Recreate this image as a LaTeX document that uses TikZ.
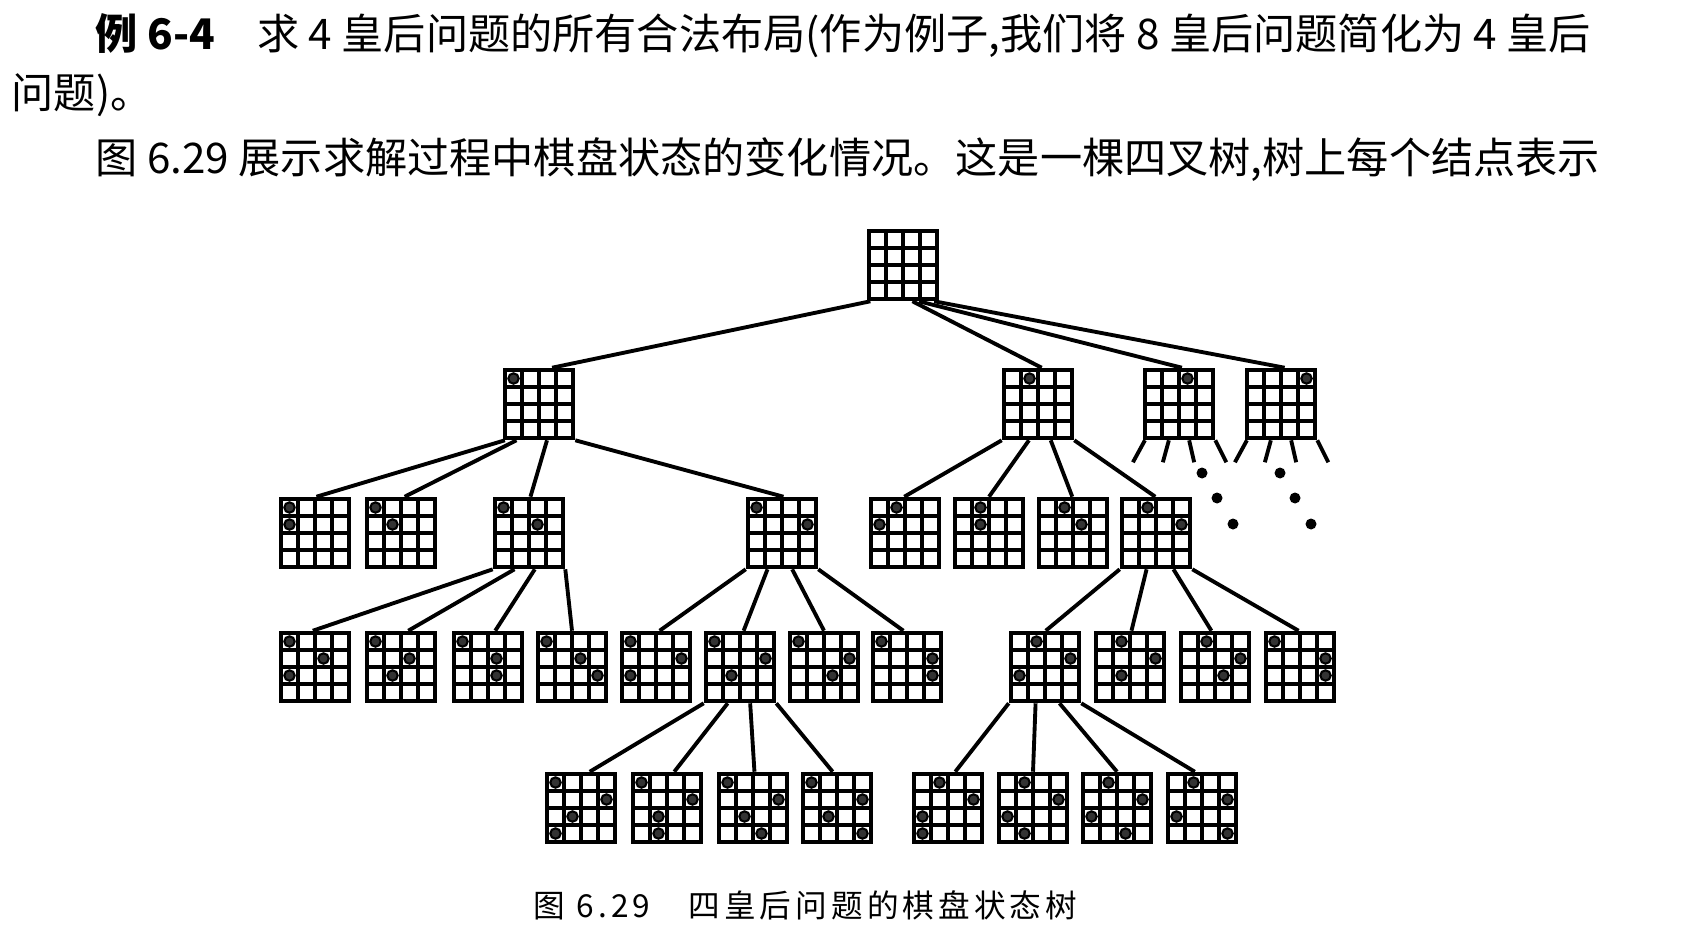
\documentclass[tikz,border=0pt]{standalone}
\usepackage{fontspec}
\setmainfont{Noto Sans CJK SC}
\newfontfamily\capfont{Noto Sans CJK SC}[LetterSpace=13]
\usetikzlibrary{calc}

\tikzset{
  boardbox/.style={draw, line width=1.3pt, minimum size=6.8mm, inner sep=0pt},
  gridline/.style={line width=1pt},
  queen/.style={draw, line width=0.6pt, fill=black!80},
  branch/.style={line width=1.1pt},
  textline/.style={inner sep=0pt, anchor=west, font=\fontsize{12}{14}\selectfont},
}

% board: name, x, y
\newcommand\qboard[3]{%
  \node[boardbox] (#1) at (#2,#3) {};
  \foreach \k in {-17,0,17} {
    \draw[gridline] ({#2+\k},{#3-34}) -- ({#2+\k},{#3+34});
    \draw[gridline] ({#2-34},{#3+\k}) -- ({#2+34},{#3+\k});
  }
}
% queens: board name, list row/col
\newcommand\queens[2]{%
  \foreach \qr/\qc in {#2} {
    \draw[queen] ($(#1.center)+({(\qc-2.5)*1.7mm},{-(\qr-2.5)*1.7mm})$) circle (0.52mm);
  }
}
% parent, fraction on bottom, child, fraction on top
\newcommand\qlink[4]{%
  \draw[branch] ($(#1.south west)!#2!(#1.south east)$) -- ($(#3.north west)!#4!(#3.north east)$);
}

\begin{document}
\begin{tikzpicture}[x=0.1mm, y=-0.1mm]
\useasboundingbox (0,0) rectangle (1688,943);

% text above
\node[textline] (line1) at (95,36) {{\bfseries 例 6-4}\quad 求 4 皇后问题的所有合法布局(作为例子,我们将 8 皇后问题简化为 4 皇后};
\node[textline] (line2) at (11,95) {问题)。};
\node[textline] (line3) at (95,160) {图 6.29 展示求解过程中棋盘状态的变化情况。这是一棵四叉树,树上每个结点表示};

% level 0 and 1
\qboard{root}{903}{265}
\qboard{a}{539}{404}  \queens{a}{1/1}
\qboard{b}{1038}{404} \queens{b}{1/2}
\qboard{c}{1179}{404} \queens{c}{1/3}
\qboard{d}{1281}{404} \queens{d}{1/4}
\qlink{root}{0.05}{a}{0.68}
\qlink{root}{0.63}{b}{0.55}
\qlink{root}{0.72}{c}{0.54}
\qlink{root}{0.93}{d}{0.55}

% c and d are not expanded
\foreach \p in {c,d} {
  \foreach \s/\dx in {0.03/-12, 0.36/-6, 0.64/5, 1/11}
    \draw[branch] ($(\p.south west)!\s!(\p.south east)$) -- ++(\dx,22);
}
\foreach \x in {1202,1280} {
  \fill (\x,473) circle (0.55mm);
  \fill (\x+15,498) circle (0.55mm);
  \fill (\x+31,524) circle (0.55mm);
}

% level 2
\foreach \c/\x/\s/\e in {1/315/0.03/0.52, 2/401/0.19/0.55, 3/529/0.61/0.52, 4/782/1/0.52} {
  \qboard{a\c}{\x}{533} \queens{a\c}{1/1,2/\c}
  \qlink{a}{\s}{a\c}{\e}
}
\foreach \c/\x/\s/\e in {1/905/0/0.49, 2/989/0.375/0.5, 3/1073/0.675/0.49, 4/1156/1/0.49} {
  \qboard{b\c}{\x}{533} \queens{b\c}{1/2,2/\c}
  \qlink{b}{\s}{b\c}{\e}
}

% level 3
\foreach \c/\x/\s/\e in {1/315/0/0.47, 2/401/0.3/0.6, 3/488/0.58/0.6, 4/572/1/0.5} {
  \qboard{a3\c}{\x}{667} \queens{a3\c}{1/1,2/3,3/\c}
  \qlink{a3}{\s}{a3\c}{\e}
}
\foreach \c/\x/\s/\e in {1/656/0/0.55, 2/740/0.3/0.55, 3/824/0.64/0.5, 4/907/1/0.45} {
  \qboard{a4\c}{\x}{667} \queens{a4\c}{1/1,2/4,3/\c}
  \qlink{a4}{\s}{a4\c}{\e}
}
\foreach \c/\x/\s/\e in {1/1045/0/0.51, 2/1130/0.37/0.52, 3/1215/0.74/0.45} {
  \qboard{b4\c}{\x}{667} \queens{b4\c}{1/2,2/4,3/\c}
  \qlink{b4}{\s}{b4\c}{\e}
}
\qboard{b44}{1300}{667} \queens{b44}{1/1,2/4,3/4}
\qlink{b4}{1}{b44}{0.48}

% level 4
\foreach \c/\x/\s/\e in {1/581/0/0.62, 2/667/0.33/0.6, 3/753/0.64/0.52, 4/837/1/0.44} {
  \qboard{a42\c}{\x}{808} \queens{a42\c}{1/1,2/4,3/2,4/\c}
  \qlink{a42}{\s}{a42\c}{\e}
}
\foreach \c/\x/\s/\e in {1/948/0/0.6, 2/1033/0.37/0.5, 3/1117/0.7/0.5, 4/1202/1/0.4} {
  \qboard{b41\c}{\x}{808} \queens{b41\c}{1/2,2/4,3/1,4/\c}
  \qlink{b41}{\s}{b41\c}{\e}
}

% caption
\node[inner sep=0pt, anchor=west, font=\capfont\fontsize{9}{11}\selectfont] (caption) at (533,905) {图 6.29\hspace{1.2em}四皇后问题的棋盘状态树};
\end{tikzpicture}
\end{document}
